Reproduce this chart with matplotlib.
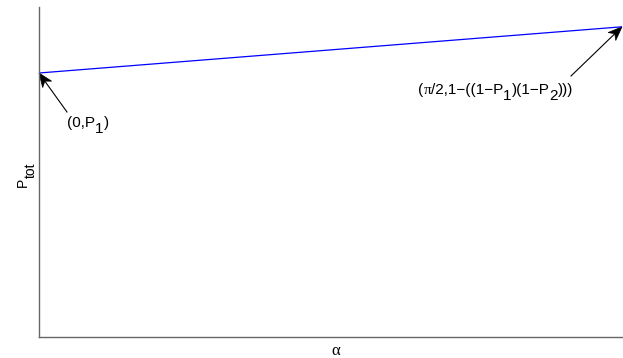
import numpy as np
import matplotlib
matplotlib.use("Agg")
import matplotlib.pyplot as plt
from matplotlib.patches import Polygon
from matplotlib.transforms import IdentityTransform
from matplotlib import font_manager
from matplotlib.ft2font import FT2Font

plt.rcParams['font.family'] = ['Liberation Sans', 'DejaVu Sans']

P1 = 0.8
P2 = 0.7
alpha = [0.0, np.pi / 2]
ptot = [P1, 1 - (1 - P1) * (1 - P2)]

W, H = 623, 358
DPI = 100
fig = plt.figure(figsize=(W / DPI, H / DPI), dpi=DPI)
ax = fig.add_axes([39 / W, 21 / H, 583 / W, 330 / H])
ax.plot(alpha, ptot, color='#0000ff', lw=0.9)
ax.set_xlim(0, np.pi / 2)
ax.set_ylim(0, 1)
ax.set_xticks([])
ax.set_yticks([])
for s in ['top', 'right']:
    ax.spines[s].set_visible(False)
for s in ['left', 'bottom']:
    ax.spines[s].set_color('#666666')
    ax.spines[s].set_linewidth(1.0)

FS = 11
SANS = 'Liberation Sans'
SERIF = 'Liberation Serif'
_fonts = {}


def advance(txt, family, fs):
    key = (family, fs)
    if key not in _fonts:
        path = font_manager.findfont(font_manager.FontProperties(family=family))
        f = FT2Font(path)
        f.set_size(fs, DPI)
        _fonts[key] = f
    f = _fonts[key]
    return sum(f.load_char(ord(ch)).linearHoriAdvance / 65536.0 for ch in txt)


def rich(segments, x, y, ha='left', rot=0, fs=FS):
    """segments: list of (text, baseline shift px, family); x,y = baseline anchor in pixels."""
    items = []
    total = 0.0
    for txt, dy, fam in segments:
        items.append((txt, dy, fam, total))
        total += advance(txt, fam, fs)
    start = {'left': 0.0, 'center': -total / 2, 'right': -total}[ha]
    c, s = np.cos(np.radians(rot)), np.sin(np.radians(rot))
    for txt, dy, fam, off in items:
        u = start + off
        v = -dy
        px = x + u * c - v * s
        py = y + u * s + v * c
        fig.text(px / W, py / H, txt, fontsize=fs, family=fam, ha='left', va='baseline',
                 rotation=rot, rotation_mode='anchor')


def iy(y):
    return H - y


# axis labels
rich([('α', 0, SERIF)], 336, iy(355), ha='center', fs=12)
rich([('P', 0, SANS), ('tot', 8, SANS)], 27, iy(175), ha='center', rot=90, fs=10)

# annotation texts
rich([('(0,P', 0, SANS), ('1', 6, SANS), (')', 0, SANS)], 67, iy(127))
rich([('(', 0, SANS), ('π', 0, SERIF), ('/2,1−((1−P', 0, SANS), ('1', 6, SANS),
      (')(1−P', 0, SANS), ('2', 6, SANS), (')))', 0, SANS)], 573, iy(94), ha='right')


def arrow(tail_px, tip_data):
    tip = ax.transData.transform(tip_data)
    tail = np.array([tail_px[0], iy(tail_px[1])], dtype=float)
    d = tip - tail
    u = d / np.hypot(*d)
    n = np.array([-u[1], u[0]])
    hl, hw, notch = 14.0, 5.5, 4.0
    back = tip - u * hl
    p1 = back + n * hw
    p2 = back - n * hw
    pn = tip - u * (hl - notch)
    ax.plot([tail[0], pn[0]], [tail[1], pn[1]], color='black', lw=0.8,
            transform=IdentityTransform(), clip_on=False)
    ax.add_patch(Polygon([tip, p1, pn, p2], closed=True, facecolor='black', edgecolor='black',
                         lw=0.5, transform=IdentityTransform(), clip_on=False))


arrow((67, 112), (alpha[0], ptot[0]))
arrow((571, 76), (alpha[1], ptot[1]))

fig.savefig('out.png', dpi=DPI)
